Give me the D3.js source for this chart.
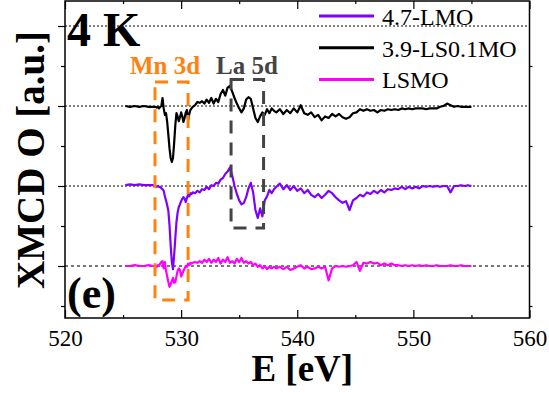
<!DOCTYPE html>
<html lang="en">
<head>
<meta charset="UTF-8">
<title>XMCD O K-edge 4 K</title>
<script src="https://d3js.org/d3.v7.min.js"></script>
<style>
  body { margin: 0; background: #fff; }
  text { font-family: "Liberation Serif", "Times New Roman", serif; }
</style>
</head>
<body>
<svg width="549" height="394"></svg>
<script>
// photon energy (eV), shared by all three spectra
const energy = [
  525.2, 525.6, 526.0, 526.4, 526.8, 527.2, 527.6,
  527.8, 527.9, 528.0, 528.1, 528.2, 528.3, 528.4, 528.5, 528.6, 528.7, 528.8,
  528.9, 529.0, 529.1, 529.2, 529.3, 529.4, 529.5, 529.6, 529.7, 529.8, 529.9,
  530.0, 530.1, 530.2, 530.3, 530.4, 530.5, 530.6, 530.7, 530.8, 530.9, 531.0,
  531.2, 531.4, 531.6, 531.8, 532.0, 532.2, 532.4, 532.6, 532.8, 533.0, 533.2,
  533.4, 533.6, 533.8, 534.0, 534.2, 534.4, 534.6, 534.8, 535.0, 535.2, 535.4,
  535.6, 535.8, 536.0, 536.2, 536.4, 536.6, 536.8, 537.0, 537.2, 537.4, 537.6,
  537.8, 538.0,
  538.2, 538.5, 538.8, 539.1, 539.4, 539.7, 540.0, 540.3, 540.6, 540.9, 541.2,
  541.5, 541.8, 542.1, 542.4, 542.7, 543.0, 543.3, 543.6, 543.9, 544.2, 544.5,
  544.8, 545.1, 545.4, 545.7, 546.0, 546.3, 546.6, 546.9, 547.2, 547.5, 547.8,
  548.1, 548.4, 548.7, 549.0, 549.3, 549.6, 549.9, 550.2, 550.5, 550.8, 551.1,
  551.4, 551.7, 552.0, 552.3, 552.6, 552.9, 553.2, 553.5, 553.8, 554.1, 554.4,
  554.7, 555.0
];

// XMCD signal (a.u.), before vertical offset
const lmo47 = [
  0.01, 0.02, 0.01, 0.02, 0.01, 0.01, 0.01,
  0, -0.01, 0, -0.01, -0.01, -0.03, -0.04, -0.06, -0.13, -0.18, -0.24,
  -0.31, -0.49, -0.74, -0.95, -1.04, -0.86, -0.65, -0.45, -0.33, -0.26, -0.23,
  -0.19, -0.16, -0.14, -0.16, -0.2, -0.15, -0.11, -0.13, -0.09, -0.1, -0.08,
  -0.09, -0.06, -0.08, -0.04, -0.05, -0.01, -0.04, 0.01, 0, 0.04, 0.03,
  0.08, 0.1, 0.15, 0.18, 0.23, 0.13, 0, -0.1, -0.18, -0.23, -0.21,
  -0.14, -0.03, 0.04, -0.08, -0.3, -0.4, -0.28, -0.38, -0.18, -0.13, -0.05,
  -0.09, -0.04,
  -0.01, 0.03, -0.04, 0.01, -0.05, 0, -0.06, -0.03, -0.09, -0.05, -0.11,
  -0.14, -0.1, -0.15, -0.11, -0.06, -0.09, -0.14, -0.18, -0.21, -0.19, -0.3,
  -0.18, -0.15, -0.11, -0.13, -0.08, -0.1, -0.06, -0.09, -0.05, -0.08, -0.04,
  -0.05, -0.03, -0.04, -0.01, -0.04, -0.01, -0.03, -0.01, -0.03, 0, -0.01,
  0, -0.01, 0, -0.01, 0, 0, -0.08, 0, 0, 0.01, 0,
  0.01, 0
];

const ls01mo39 = [
  0, -0.01, 0, -0.01, 0, -0.01, -0.01,
  -0.01, -0.02, -0.01, -0.03, -0.01, 0, 0.1, -0.03, -0.11, -0.09, -0.2,
  -0.36, -0.53, -0.65, -0.7, -0.65, -0.46, -0.24, -0.09, -0.13, -0.19, -0.14,
  -0.08, -0.13, -0.2, -0.15, -0.08, -0.05, -0.18, -0.1, -0.05, -0.03, -0.01,
  0.01, 0.05, 0.04, 0.06, 0.03, 0.08, 0.04, 0.1, 0.03, 0.09, 0.05,
  0.15, 0.2, 0.13, 0.23, 0.25, 0.18, 0.1, 0.03, -0.03, -0.08, -0.03,
  0.08, 0.11, 0.09, -0.03, -0.15, -0.2, -0.13, -0.08, -0.11, -0.04, -0.09,
  -0.03, -0.06,
  -0.08, -0.04, -0.1, -0.05, -0.09, -0.03, -0.08, 0.01, -0.09, -0.11, -0.08,
  -0.14, -0.11, -0.18, -0.13, -0.15, -0.1, -0.13, -0.1, -0.14, -0.16, -0.14,
  -0.09, -0.08, -0.04, -0.06, -0.04, -0.06, -0.05, -0.08, -0.05, -0.06, -0.04,
  -0.05, -0.04, -0.05, -0.03, -0.04, -0.03, -0.04, -0.03, -0.03, -0.03, -0.04,
  -0.03, -0.03, -0.03, -0.01, 0, 0.03, 0.01, -0.01, 0, -0.01, -0.01,
  -0.01, -0.01
];

const lsmo = [
  0, 0, 0.01, 0, 0, 0.01, 0,
  0, -0.01, 0.01, 0, 0.03, 0.05, 0.06, -0.03, 0.05, -0.06, -0.13,
  -0.2, -0.26, -0.23, -0.19, -0.15, -0.21, -0.2, -0.13, -0.06, -0.03, -0.05,
  -0.13, -0.1, -0.06, -0.03, 0, -0.01, 0.03, 0.01, 0.04, 0.03, 0.04,
  0.05, 0.04, 0.06, 0.04, 0.08, 0.05, 0.09, 0.04, 0.08, 0.05, 0.1,
  0.03, 0.08, 0.05, 0.11, 0.04, 0.06, 0.03, 0.09, 0.05, 0.1, 0.04,
  0.06, 0.03, 0.05, 0.01, 0.03, -0.01, 0.01, -0.03, 0, -0.04, -0.01,
  -0.03, -0.01,
  -0.03, -0.01, -0.04, -0.01, -0.05, -0.03, -0.01, 0.01, -0.03, -0.01, -0.04,
  -0.03, -0.01, -0.03, -0.01, -0.18, -0.03, 0, -0.01, 0, -0.01, 0,
  0.01, 0.05, -0.06, 0.04, 0.03, 0.05, 0.03, 0.04, 0.01, 0.03, 0.01,
  0.03, 0.01, 0.01, 0, 0.01, 0, 0.01, 0, 0.01, 0, 0.01,
  0, 0, 0.01, 0, 0, 0, 0.01, 0, 0, 0.01, 0,
  0, 0
];

const seriesNames = ['4.7-LMO', '3.9-LS0.1MO', 'LSMO'];
const seriesValues = [lmo47, ls01mo39, lsmo];
const seriesOffsets = [1, 2, 0];
const seriesColors = ['#7f00ff', '#000000', '#ff00ff'];

const xTicks = [520, 530, 540, 550, 560];
const xMinorTicks = [525, 535, 545, 555];
const yTicks = [0, 1, 2, 3];
const yMinorTicks = [-0.5, 0.5, 1.5, 2.5];

// highlighted regions: [E from, E to, signal top, signal bottom]
const mnBox = [527.75, 530.6, 2.3, -0.425];
const laBox = [534.3, 537.1, 2.33, 0.475];

const svg = d3.select('svg');
const margin = {top: 1, right: 20, bottom: 76, left: 65};
const width = +svg.attr('width');
const height = +svg.attr('height');

const x = d3.scaleLinear()
  .domain([520, 560])
  .range([margin.left, width - margin.right + 0.5]);
const y = d3.scaleLinear()
  .domain([-0.65, 3.3125])
  .range([height - margin.bottom, margin.top]);

// dotted baselines
svg.append('g').selectAll('line')
  .data(yTicks)
  .join('line')
  .attr('x1', x(520)).attr('x2', x(560))
  .attr('y1', d => y(d)).attr('y2', d => y(d))
  .attr('stroke', d => d === 0 ? '#777' : '#000')
  .attr('stroke-width', d => d === 0 ? 2 : 1)
  .attr('stroke-dasharray', d => d === 0 ? '3,3' : '2,2');

// spectra
const line = d3.line()
  .x(d => x(d[0]))
  .y(d => y(d[1]));

[2, 0, 1].forEach(i => {
  const pts = energy.map((e, k) => [e, seriesValues[i][k] + seriesOffsets[i]]);
  svg.append('path')
    .datum(pts)
    .attr('fill', 'none')
    .attr('stroke', seriesColors[i])
    .attr('stroke-width', 2.2)
    .attr('stroke-linejoin', 'round')
    .attr('d', line);
});

// dashed boxes
function box(b, color) {
  svg.append('rect')
    .attr('x', x(b[0]))
    .attr('y', y(b[2]))
    .attr('width', x(b[1]) - x(b[0]))
    .attr('height', y(b[3]) - y(b[2]))
    .attr('fill', 'none')
    .attr('stroke', color)
    .attr('stroke-width', 3)
    .attr('stroke-dasharray', '13,9');
}
box(mnBox, '#ff8210');
box(laBox, '#444');

// axes
const gx = svg.append('g').attr('transform', `translate(0,${y(-0.65)})`);
gx.call(d3.axisBottom(x).tickValues(xTicks).tickSizeInner(-8).tickSizeOuter(0).tickPadding(12).tickFormat(d3.format('d')));
svg.append('g').attr('transform', `translate(0,${y(-0.65)})`)
  .call(d3.axisBottom(x).tickValues(xMinorTicks).tickSizeInner(-3).tickSizeOuter(0).tickFormat(''));
svg.append('g').attr('transform', `translate(0,${y(3.3125)})`)
  .call(d3.axisTop(x).tickValues(xTicks).tickSizeInner(-8).tickSizeOuter(0).tickFormat(''));
svg.append('g').attr('transform', `translate(0,${y(3.3125)})`)
  .call(d3.axisTop(x).tickValues(xMinorTicks).tickSizeInner(-3).tickSizeOuter(0).tickFormat(''));
svg.append('g').attr('transform', `translate(${x(520)},0)`)
  .call(d3.axisLeft(y).tickValues(yTicks).tickSizeInner(7).tickSizeOuter(0).tickFormat(''));
svg.append('g').attr('transform', `translate(${x(520)},0)`)
  .call(d3.axisLeft(y).tickValues(yMinorTicks).tickSizeInner(4).tickSizeOuter(0).tickFormat(''));
svg.append('g').attr('transform', `translate(${x(560)},0)`)
  .call(d3.axisRight(y).tickValues(yMinorTicks).tickSizeInner(3).tickSizeOuter(0).tickFormat(''));

svg.selectAll('.domain').remove();
svg.selectAll('.tick line').attr('stroke', '#000').attr('stroke-width', 1.2);
gx.selectAll('.tick text')
  .attr('font-size', 23)
  .attr('fill', '#000')
  .style('font-family', '"Liberation Serif", "Times New Roman", serif');

// frame
svg.append('rect')
  .attr('x', x(520)).attr('y', y(3.3125))
  .attr('width', x(560) - x(520))
  .attr('height', y(-0.65) - y(3.3125))
  .attr('fill', 'none')
  .attr('stroke', '#000')
  .attr('stroke-width', 1.5);

// axis titles
svg.append('text')
  .attr('x', (x(520) + x(560)) / 2 + 5)
  .attr('y', 381)
  .attr('text-anchor', 'middle')
  .attr('font-size', 37)
  .attr('font-weight', 'bold')
  .text('E [eV]');
svg.append('text')
  .attr('transform', 'translate(44,160) rotate(-90)')
  .attr('text-anchor', 'middle')
  .attr('font-size', 39)
  .attr('font-weight', 'bold')
  .text('XMCD O [a.u.]');

// panel annotations
svg.append('text').attr('x', 67).attr('y', 46)
  .attr('font-size', 48).attr('font-weight', 'bold').text('4 K');
svg.append('text').attr('x', 67).attr('y', 308)
  .attr('font-size', 44).attr('font-weight', 'bold').text('(e)');
svg.append('text').attr('x', 130).attr('y', 74)
  .attr('font-size', 25).attr('font-weight', 'bold').attr('fill', '#ff8210').text('Mn 3d');
svg.append('text').attr('x', 216).attr('y', 74)
  .attr('font-size', 25).attr('font-weight', 'bold').attr('fill', '#444').text('La 5d');

// legend
const legend = svg.append('g').attr('transform', 'translate(319,16)');
seriesNames.forEach((name, i) => {
  const row = legend.append('g').attr('transform', `translate(0,${i * 31.7})`);
  row.append('line')
    .attr('x1', 0).attr('x2', 55)
    .attr('stroke', seriesColors[i])
    .attr('stroke-width', 3);
  row.append('text')
    .attr('x', 63).attr('y', 9)
    .attr('font-size', 24)
    .text(name);
});
</script>
</body>
</html>
